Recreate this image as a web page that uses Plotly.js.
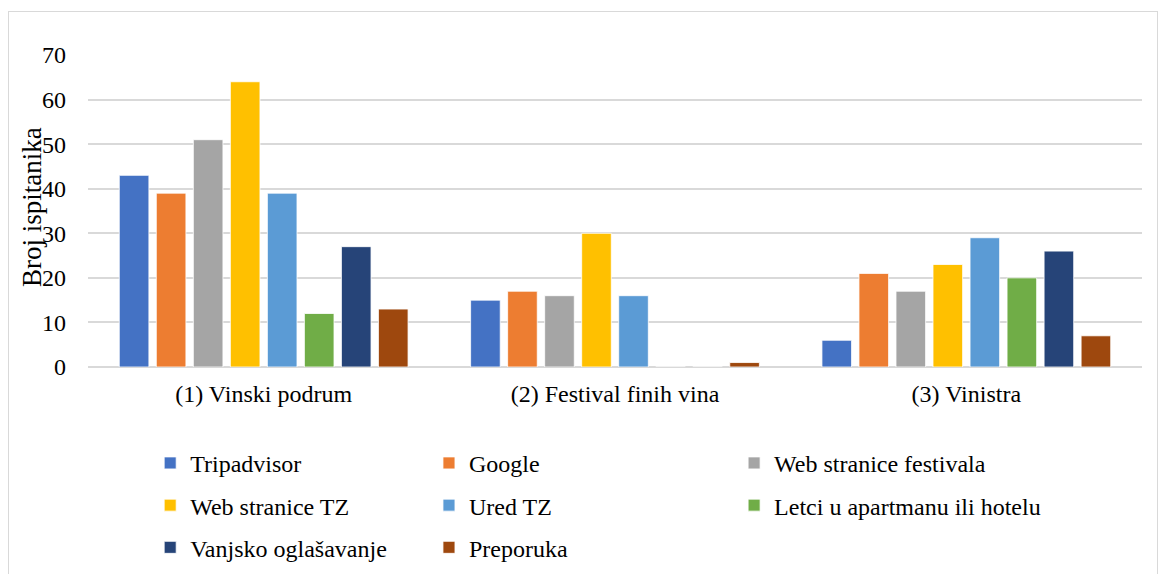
<!DOCTYPE html>
<html>
<head>
<meta charset="utf-8">
<script src="https://cdn.plot.ly/plotly-3.0.1.min.js"></script>
<style>
html,body{margin:0;padding:0;background:#fff;}
#wrap{position:relative;width:1167px;height:574px;overflow:hidden;}
#frame{position:absolute;left:8px;top:11px;width:1150px;height:600px;border:1px solid #d9d9d9;box-sizing:border-box;pointer-events:none;}
#chart{position:absolute;left:0;top:0;width:1167px;height:574px;}
</style>
</head>
<body>
<div id="wrap"><div id="chart"></div><div id="frame"></div></div>
<script>
const categories = ["(1) Vinski podrum", "(2) Festival finih vina", "(3) Vinistra"];
const seriesNames = ["Tripadvisor", "Google", "Web stranice festivala", "Web stranice TZ", "Ured TZ", "Letci u apartmanu ili hotelu", "Vanjsko oglašavanje", "Preporuka"];
const tripadvisor = [43, 15, 6];
const google = [39, 17, 21];
const webFestivala = [51, 16, 17];
const webTZ = [64, 30, 23];
const uredTZ = [39, 16, 29];
const letci = [12, 0, 20];
const vanjsko = [27, 0, 26];
const preporuka = [13, 1, 7];
const yTicks = [0, 10, 20, 30, 40, 50, 60, 70];
const yTitle = "Broj ispitanika";

const seriesValues = [tripadvisor, google, webFestivala, webTZ, uredTZ, letci, vanjsko, preporuka];
const colors = ["#4472C4", "#ED7D31", "#A5A5A5", "#FFC000", "#5B9BD5", "#70AD47", "#264478", "#9E480E"];
const legendOf = ["legend", "legend2", "legend3", "legend", "legend2", "legend3", "legend", "legend2"];

const FONT = "'Liberation Serif', 'Times New Roman', serif";
const traces = seriesNames.map((n, i) => ({
  type: "bar",
  name: n,
  x: categories,
  y: seriesValues[i],
  marker: {color: colors[i], line: {color: "#ffffff", width: 0.8}},
  legend: legendOf[i],
  legendgroup: "g" + i,
  hoverinfo: "x+y+name"
}));

const legBase = {
  orientation: "v",
  xanchor: "left",
  yanchor: "top",
  yref: "container",
  y: 0.232,
  font: {family: FONT, size: 24, color: "#000"},
  tracegroupgap: 8,
  bgcolor: "rgba(0,0,0,0)",
  itemwidth: 30
};

const layout = {
  width: 1167,
  height: 574,
  margin: {l: 88, r: 25, t: 55, b: 207},
  paper_bgcolor: "#ffffff",
  plot_bgcolor: "#ffffff",
  barmode: "group",
  bargap: 0.157,
  bargroupgap: 0.2,
  font: {family: FONT, size: 24, color: "#000"},
  xaxis: {
    type: "category",
    showgrid: false,
    showline: false,
    ticks: "",
    tickfont: {family: FONT, size: 24, color: "#000"},
    ticklabelstandoff: 10
  },
  yaxis: {
    range: [0, 70],
    tickvals: yTicks,
    ticktext: yTicks.map(String),
    showgrid: true,
    gridcolor: "#d9d9d9",
    gridwidth: 1.5,
    zeroline: true,
    zerolinecolor: "#d9d9d9",
    zerolinewidth: 1.5,
    showline: false,
    ticks: "",
    tickfont: {family: FONT, size: 24, color: "#000"},
    ticklabelstandoff: 21
  },
  annotations: [{
    text: yTitle,
    xref: "paper", yref: "paper",
    x: 0, y: 0.5,
    xanchor: "center", yanchor: "middle",
    xshift: -56, yshift: 4,
    textangle: -90,
    showarrow: false,
    font: {family: FONT, size: 27, color: "#000"}
  }],
  legend: Object.assign({}, legBase, {x: 0.059}),
  legend2: Object.assign({}, legBase, {x: 0.3235}),
  legend3: Object.assign({}, legBase, {x: 0.613}),
  showlegend: true
};

Plotly.newPlot("chart", traces, layout, {displayModeBar: false, staticPlot: false});
</script>
</body>
</html>
